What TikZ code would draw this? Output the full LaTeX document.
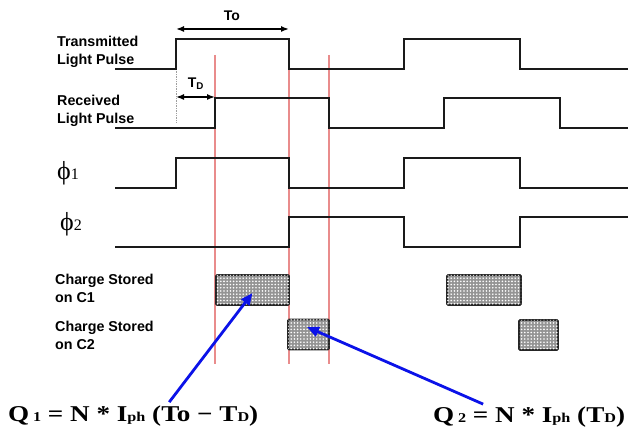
\documentclass[tikz,border=0pt]{standalone}
\usepackage{fontspec}
\setmainfont{Liberation Serif}
\setsansfont{Liberation Sans}
\newfontfamily\eqfont[FakeStretch=1.2]{Liberation Serif}
\usepackage{tikz}
\usetikzlibrary{arrows.meta,patterns.meta,positioning}
\definecolor{markred}{HTML}{E98C8C}
\definecolor{qblue}{HTML}{0B12E8}
\definecolor{wavegray}{HTML}{1A1A1A}
\newcommand{\smallsub}[1]{{\fontsize{13.5}{13.5}\selectfont #1}}
\tikzset{
  wave/.style={line width=1.9pt,draw=wavegray,line join=miter},
  marker/.style={draw=markred,line width=1.1pt},
  guide/.style={draw=gray!75,densely dotted,line width=0.7pt},
  span/.style={{Latex[length=8pt,width=6pt]}-{Latex[length=8pt,width=6pt]},line width=1.5pt},
  siglabel/.style={font=\fontsize{14.3}{18}\selectfont\sffamily\bfseries,align=left,anchor=west,inner sep=0pt},
  philabel/.style={font=\fontsize{26}{26}\selectfont,anchor=west,inner sep=0pt},
  charge/.style={draw=black!85,line width=1.7pt,rounded corners=1pt,fill=black!42,
    postaction={pattern={Dots[distance=3.2pt,radius=0.9pt]},pattern color=white},
    minimum height=30pt,inner sep=0pt},
  qarrow/.style={-{Triangle[length=12pt,width=10pt]},line width=2.8pt,draw=qblue},
  formula/.style={font=\eqfont\fontsize{22.6}{25}\selectfont\bfseries,inner sep=0pt,anchor=base west}
}

\begin{document}
\begin{tikzpicture}[x=1pt,y=-1pt]
\useasboundingbox (0,0) rectangle (630,435);
% timing marks
\foreach \xm in {215,289,329}
  \draw[marker] (\xm,55) -- (\xm,364);
\draw[guide] (176,69) -- (176,123);

% signal names
\node[siglabel] (txlabel) at (57,52) {Transmitted\\Light Pulse};
\node[siglabel] (rxlabel) at (57,111) {Received\\Light Pulse};
\node[philabel] (phione) at (57,173) {ϕ{\fontsize{16}{16}\selectfont 1}};
\node[philabel] (phitwo) at (60,224) {ϕ{\fontsize{16}{16}\selectfont 2}};
\node[siglabel] (c1label) at (55,288) {Charge Stored\\on C1};
\node[siglabel] (c2label) at (55,335) {Charge Stored\\on C2};

% waveforms
\draw[wave] (115,69) -| (176,39) -| (289,69) -| (404,39) -| (520,69) -- (628,69);
\draw[wave] (115,128) -| (215,98) -| (329,128) -| (444,98) -| (560,128) -- (628,128);
\draw[wave] (115,188) -| (176,158) -| (289,188) -| (404,158) -| (520,188) -- (628,188);
\draw[wave] (115,247) -| (289,217) -| (404,247) -| (520,217) -- (628,217);

% pulse widths
\coordinate (toleft) at (176,29);
\coordinate (toright) at (289,29);
\draw[span] (toleft) -- (toright);
\node[font=\fontsize{14}{14}\selectfont\sffamily\bfseries,inner sep=0pt] (tolabel) at (232,16) {To};
\coordinate (tdleft) at (176,97);
\coordinate (tdright) at (215,97);
\draw[span] (tdleft) -- (tdright);
\node[font=\fontsize{14}{14}\selectfont\sffamily\bfseries,inner sep=0pt] (tdlabel) at (196,84) {T\textsubscript{D}};

% stored charge
\node[charge,minimum width=73pt] (c1a) at (252.5,290) {};
\node[charge,minimum width=41pt] (c2a) at (308.5,334.5) {};
\node[charge,minimum width=74pt] (c1b) at (484,290) {};
\node[charge,minimum width=39pt] (c2b) at (538.5,335) {};

% charge equations
\node[formula] (qone) at (8,422) {Q\,\smallsub{1} = N * I\smallsub{ph} (To − T\smallsub{D})};
\node[formula] (qtwo) at (433,423) {Q\,\smallsub{2} = N * I\smallsub{ph} (T\smallsub{D})};
\draw[qarrow] ([xshift=36pt,yshift=4pt]qone.north) -- ([yshift=-3pt]c1a.center);
\draw[qarrow] ([xshift=-46pt,yshift=3pt]qtwo.north) -- ([xshift=-1.5pt,yshift=7.5pt]c2a.center);
\end{tikzpicture}
\end{document}
